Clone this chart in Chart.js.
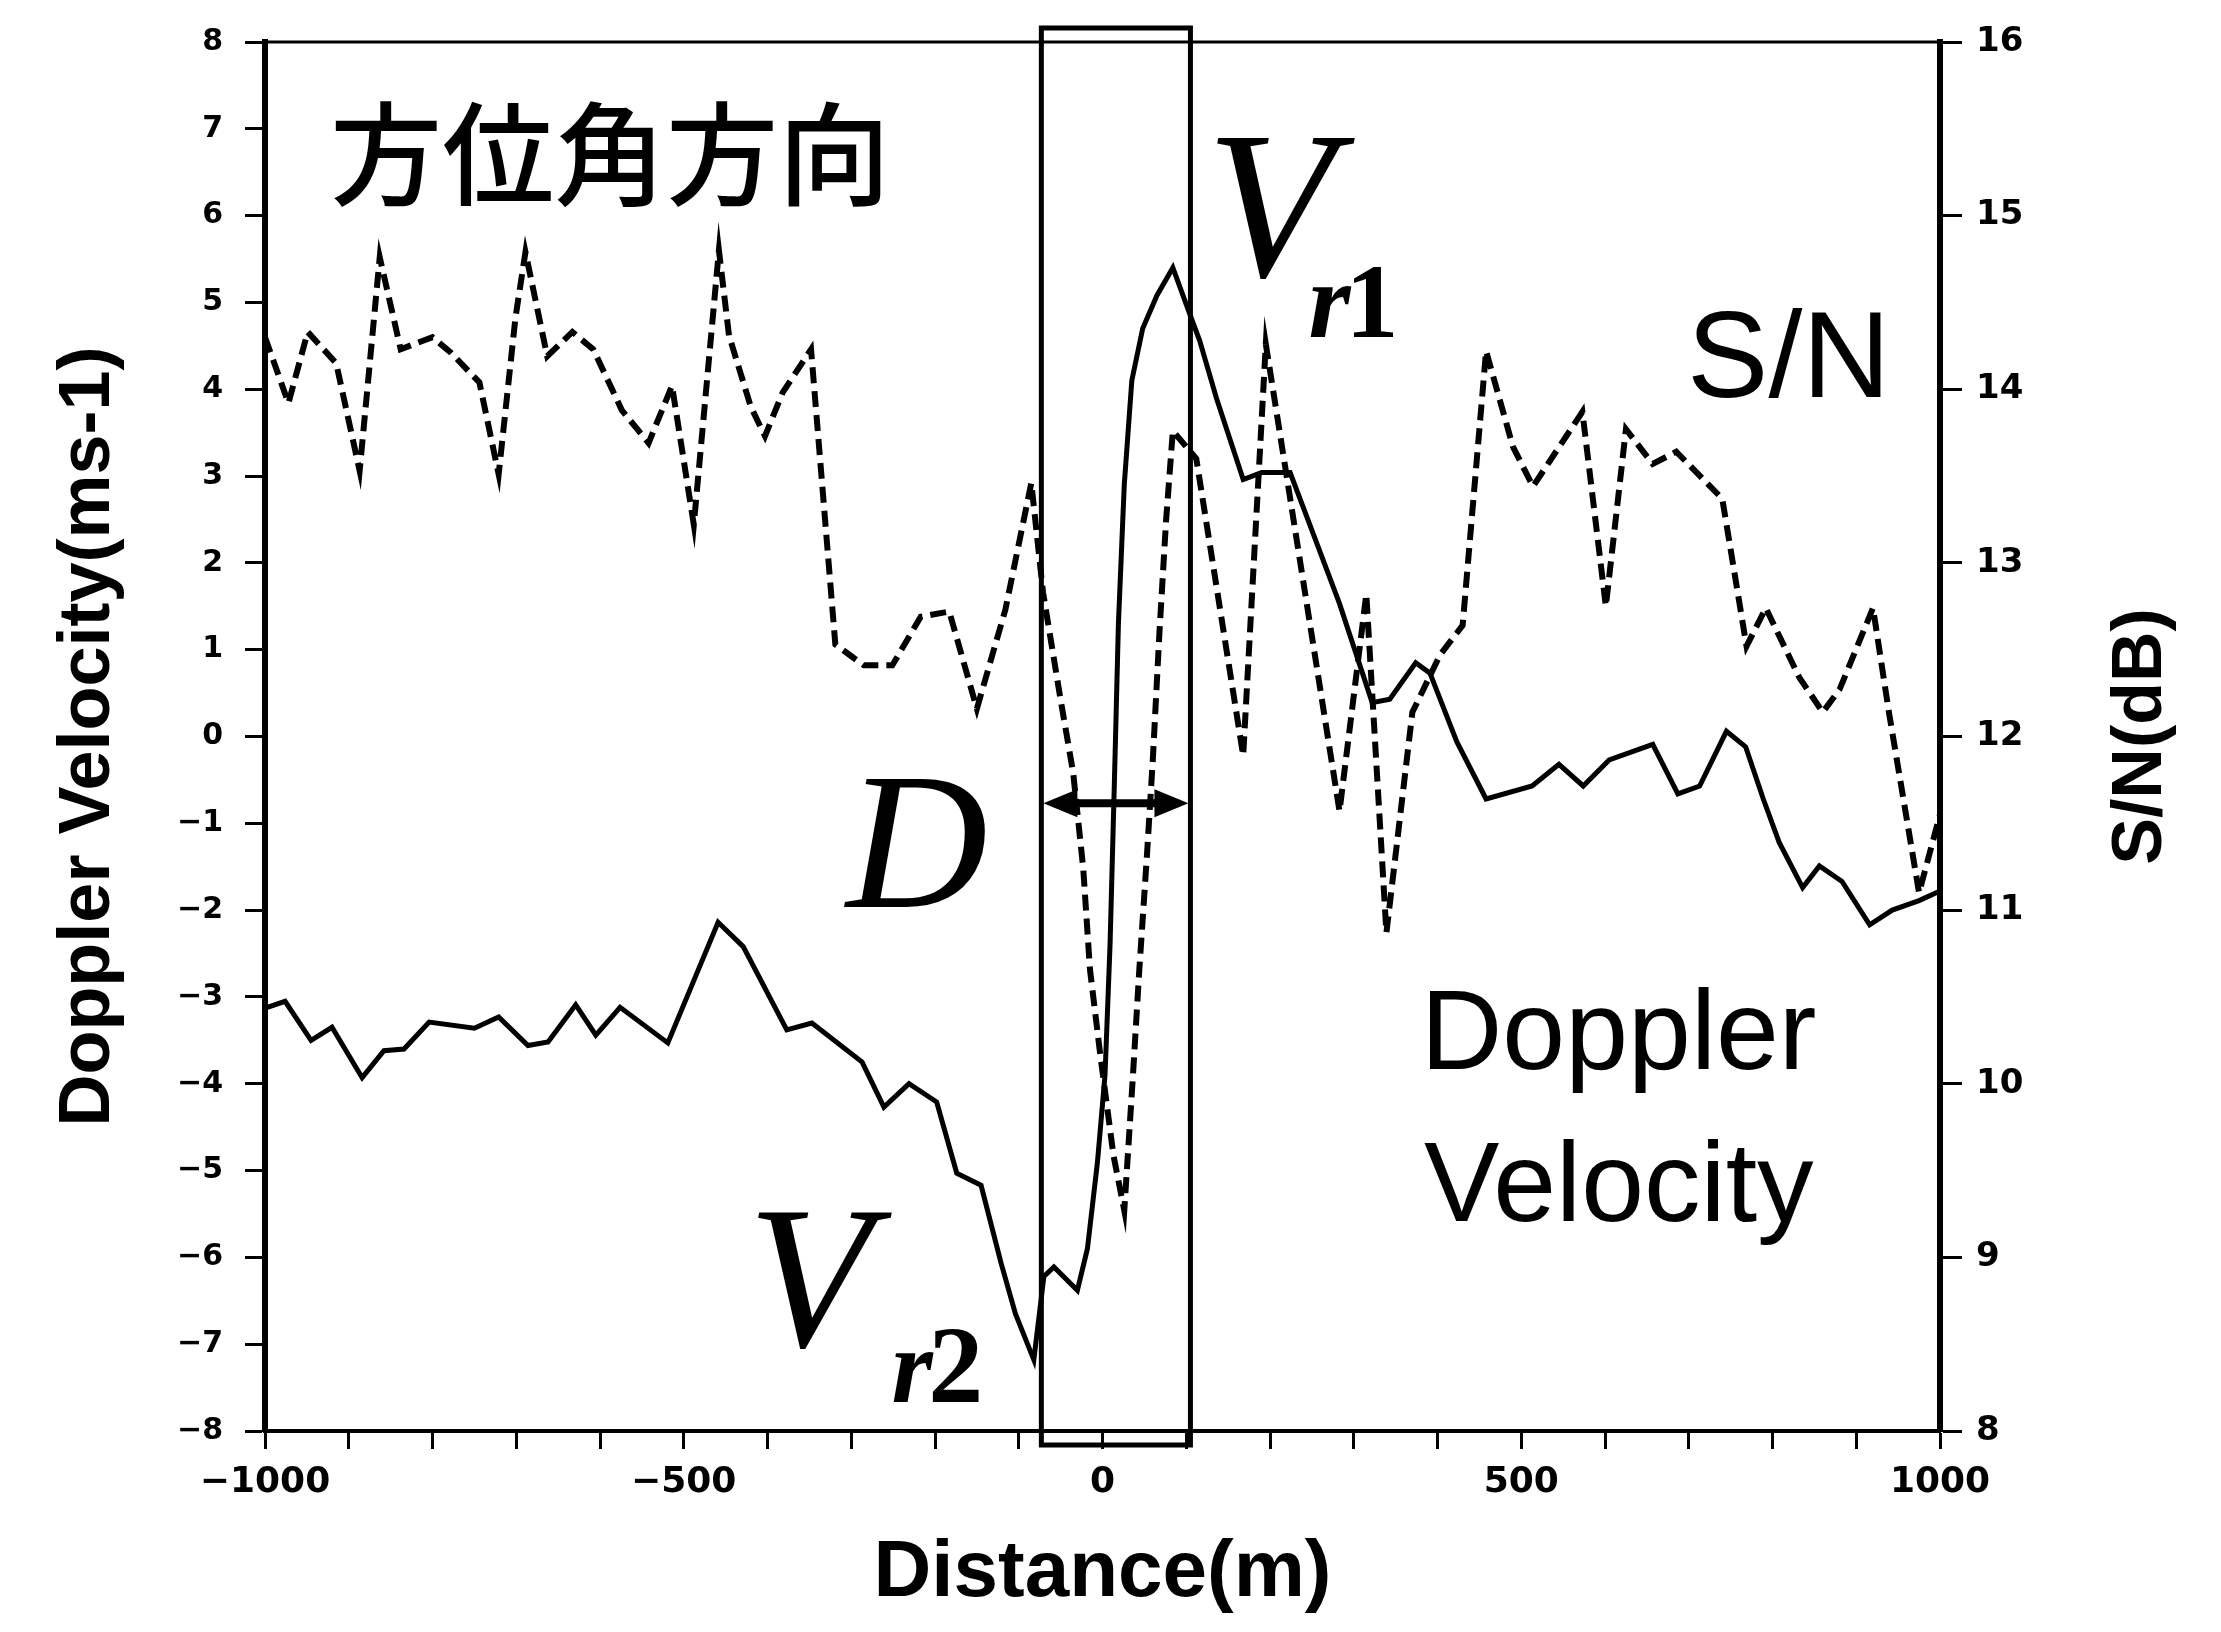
<!DOCTYPE html>
<html>
<head>
<meta charset="utf-8">
<script src="https://cdn.jsdelivr.net/npm/chart.js@4"></script>
<style>
  html, body { margin: 0; padding: 0; background: #fff; }
</style>
</head>
<body>
<canvas id="chart" width="2221" height="1632"></canvas>
<script>
  // ======== data ========
  // Doppler velocity (solid line, left axis)
  const velDistance = [-1000, -976, -945, -920, -884, -858, -834, -804, -750, -721, -686, -662, -629, -605, -576, -519,
    -459, -429, -377, -347, -287, -261, -231, -198, -174, -145, -121, -104, -82, -70, -58, -30, -18, -6, 3, 9, 14, 19,
    26, 35, 48, 65, 84, 104, 116, 136, 168, 190, 224, 244, 283, 322, 343, 374, 391, 423, 458, 513, 545, 574, 605, 657,
    687, 713, 745, 768, 789, 808, 836, 856, 883, 916, 943, 975, 1000];
  const velValues = [-3.13, -3.05, -3.5, -3.35, -3.93, -3.62, -3.6, -3.29, -3.36, -3.23, -3.56, -3.52, -3.09, -3.44, -3.12, -3.53,
    -2.14, -2.42, -3.38, -3.3, -3.75, -4.27, -4.0, -4.21, -5.03, -5.17, -6.07, -6.65, -7.18, -6.22, -6.11, -6.38, -5.9, -4.9, -3.9, -2.4, -0.6, 1.3,
    2.9, 4.1, 4.7, 5.08, 5.4, 4.87, 4.56, 3.9, 2.96, 3.04, 3.04, 2.53, 1.53, 0.39, 0.43, 0.85, 0.73, -0.06, -0.72, -0.57, -0.32, -0.57, -0.27, -0.09,
    -0.66, -0.57, 0.06, -0.12, -0.72, -1.22, -1.74, -1.49, -1.67, -2.17, -2.0, -1.89, -1.78];

  // S/N (dashed line, right axis)
  const snDistance = [-1000, -972, -949, -915, -887, -863, -838, -800, -778, -744, -721, -701, -689, -663, -633, -608,
    -574, -542, -514, -488, -458, -446, -420, -403, -382, -348, -319, -285, -251, -217, -183, -150, -116, -85, -71, -51,
    -35, -23, -15, -3, 13, 26, 36, 44, 53, 60, 68, 76, 84, 112, 168, 195, 283, 315, 339, 370, 403, 430, 458, 490, 514,
    573, 601, 625, 657, 685, 740, 769, 792, 832, 860, 880, 920, 939, 975, 1000];
  const snValues = [14.3, 13.92, 14.33, 14.15, 13.53, 14.76, 14.23, 14.3, 14.21, 14.04, 13.51, 14.41, 14.79, 14.19, 14.33, 14.23,
    13.88, 13.69, 14.02, 13.22, 14.8, 14.31, 13.9, 13.73, 13.98, 14.23, 12.53, 12.41, 12.41, 12.69, 12.72, 12.16, 12.73, 13.46, 12.83, 12.24,
    11.79, 11.24, 10.66, 10.18, 9.59, 9.27, 10.02, 10.66, 11.31, 11.86, 12.6, 13.25, 13.76, 13.6, 11.89, 14.26, 11.57, 12.82, 10.87, 12.14, 12.47, 12.64, 14.22, 13.67, 13.44,
    13.87, 12.75, 13.77, 13.57, 13.64, 13.37, 12.52, 12.74, 12.34, 12.14, 12.27, 12.74, 12.14, 11.1, 11.55];

  // axis ranges and the marked region D
  const distanceRange = [-1000, 1000];
  const velocityRange = [-8, 8];
  const snRange = [8, 16];
  const boxRange = [-73, 105];
  const arrowLevel = -0.77;

  const fmt = v => (v < 0 ? '\u2212' + Math.abs(v) : String(v));
  const toPoints = (xs, ys) => xs.map((d, i) => ({ x: d, y: ys[i] }));

  const tickFont = size => ({ family: 'DejaVu Sans', weight: 'bold', size: size, lineHeight: 1 });
  const titleFont = { family: 'Liberation Sans', weight: 'bold', size: 72 };

  // ======== annotations (box, arrow, labels) ========
  const overlay = {
    id: 'overlay',
    afterDraw(chart) {
      const { ctx, chartArea: a, scales: { x, y } } = chart;
      ctx.save();
      ctx.strokeStyle = '#000';
      ctx.fillStyle = '#000';

      // top frame line
      ctx.lineWidth = 3;
      ctx.beginPath();
      ctx.moveTo(a.left, a.top);
      ctx.lineTo(a.right, a.top);
      ctx.stroke();

      // box around D
      const bx1 = x.getPixelForValue(boxRange[0]);
      const bx2 = x.getPixelForValue(boxRange[1]);
      ctx.lineWidth = 5;
      ctx.strokeRect(bx1, a.top - 14, bx2 - bx1, a.bottom - a.top + 28);

      // double arrow
      const ay = y.getPixelForValue(arrowLevel);
      const head = 36, half = 14;
      ctx.lineWidth = 8;
      ctx.beginPath();
      ctx.moveTo(bx1 + head - 4, ay);
      ctx.lineTo(bx2 - head + 4, ay);
      ctx.stroke();
      ctx.beginPath();
      ctx.moveTo(bx1 + 2, ay);
      ctx.lineTo(bx1 + head, ay - half);
      ctx.lineTo(bx1 + head, ay + half);
      ctx.closePath();
      ctx.fill();
      ctx.beginPath();
      ctx.moveTo(bx2 - 2, ay);
      ctx.lineTo(bx2 - head, ay - half);
      ctx.lineTo(bx2 - head, ay + half);
      ctx.closePath();
      ctx.fill();

      // texts
      const put = (txt, dx, dy, font, baseline) => {
        ctx.font = font;
        ctx.textAlign = 'left';
        ctx.textBaseline = baseline || 'alphabetic';
        ctx.fillText(txt, x.getPixelForValue(dx), y.getPixelForValue(dy));
      };
      put('方位角方向', -922, 6.71, '500 112px "Noto Sans CJK JP"', 'middle');
      put('V', 124, 5.30, 'italic 210px "Liberation Serif"');
      put('r', 246, 4.60, 'italic bold 108px "Liberation Serif"');
      put('1', 290, 4.60, 'bold 106px "Liberation Serif"');
      put('S/N', 698, 3.91, '122px "Liberation Sans"');
      put('D', -306, -1.96, 'italic 196px "Liberation Serif"');
      put('Doppler', 380, -3.83, '113px "Liberation Sans"');
      put('Velocity', 384, -5.58, '113px "Liberation Sans"');
      put('V', -424, -7.02, 'italic 204px "Liberation Serif"');
      put('r', -252, -7.67, 'italic bold 106px "Liberation Serif"');
      put('2', -208, -7.67, 'bold 110px "Liberation Serif"');

      // right axis title, reading bottom to top
      ctx.translate(2142, (a.top + a.bottom) / 2);
      ctx.rotate(-Math.PI / 2);
      ctx.font = 'bold 70px "Liberation Sans"';
      ctx.textAlign = 'center';
      ctx.textBaseline = 'middle';
      ctx.fillText('S/N(dB)', 0, 0);
      ctx.restore();
    }
  };

  new Chart(document.getElementById('chart'), {
    type: 'line',
    data: {
      datasets: [{
        label: 'Doppler Velocity',
        data: toPoints(velDistance, velValues),
        yAxisID: 'y',
        borderColor: '#000',
        borderWidth: 5,
        pointRadius: 0,
        tension: 0
      }, {
        label: 'S/N',
        data: toPoints(snDistance, snValues),
        yAxisID: 'y2',
        borderColor: '#000',
        borderWidth: 6,
        borderDash: [16, 8],
        pointRadius: 0,
        tension: 0
      }]
    },
    options: {
      responsive: false,
      animation: false,
      layout: { padding: { top: 42, left: 0, right: 0, bottom: 0 } },
      plugins: { legend: { display: false }, tooltip: { enabled: false } },
      scales: {
        x: {
          type: 'linear',
          position: 'bottom',
          min: distanceRange[0],
          max: distanceRange[1],
          afterFit: s => { s.height = 201; },
          ticks: {
            stepSize: 100,
            autoSkip: false,
            maxRotation: 0,
            padding: 16,
            color: '#000',
            font: tickFont(36),
            callback: v => (v % 500 === 0 ? fmt(v) : '')
          },
          grid: { drawOnChartArea: false, tickLength: 18, tickWidth: 3, tickColor: '#000' },
          border: { display: true, color: '#000', width: 4 },
          title: { display: true, text: 'Distance(m)', color: '#000', font: { family: 'Liberation Sans', weight: 'bold', size: 80 }, padding: { top: 0, bottom: 10 } }
        },
        y: {
          position: 'left',
          min: velocityRange[0],
          max: velocityRange[1],
          afterFit: s => { s.width = 265; },
          ticks: { stepSize: 1, padding: 22, color: '#000', font: tickFont(30), callback: v => fmt(v) },
          grid: { drawOnChartArea: false, tickLength: 20, tickWidth: 3, tickColor: '#000' },
          border: { display: true, color: '#000', width: 6 },
          title: { display: true, text: 'Doppler Velocity(ms-1)', color: '#000', font: titleFont, padding: { top: 46, bottom: 0 } }
        },
        y2: {
          position: 'right',
          min: snRange[0],
          max: snRange[1],
          afterFit: s => { s.width = 281; },
          ticks: { stepSize: 1, padding: 14, color: '#000', font: tickFont(34) },
          grid: { drawOnChartArea: false, tickLength: 22, tickWidth: 3, tickColor: '#000' },
          border: { display: true, color: '#000', width: 6 }
        }
      }
    },
    plugins: [overlay]
  });
</script>
</body>
</html>
